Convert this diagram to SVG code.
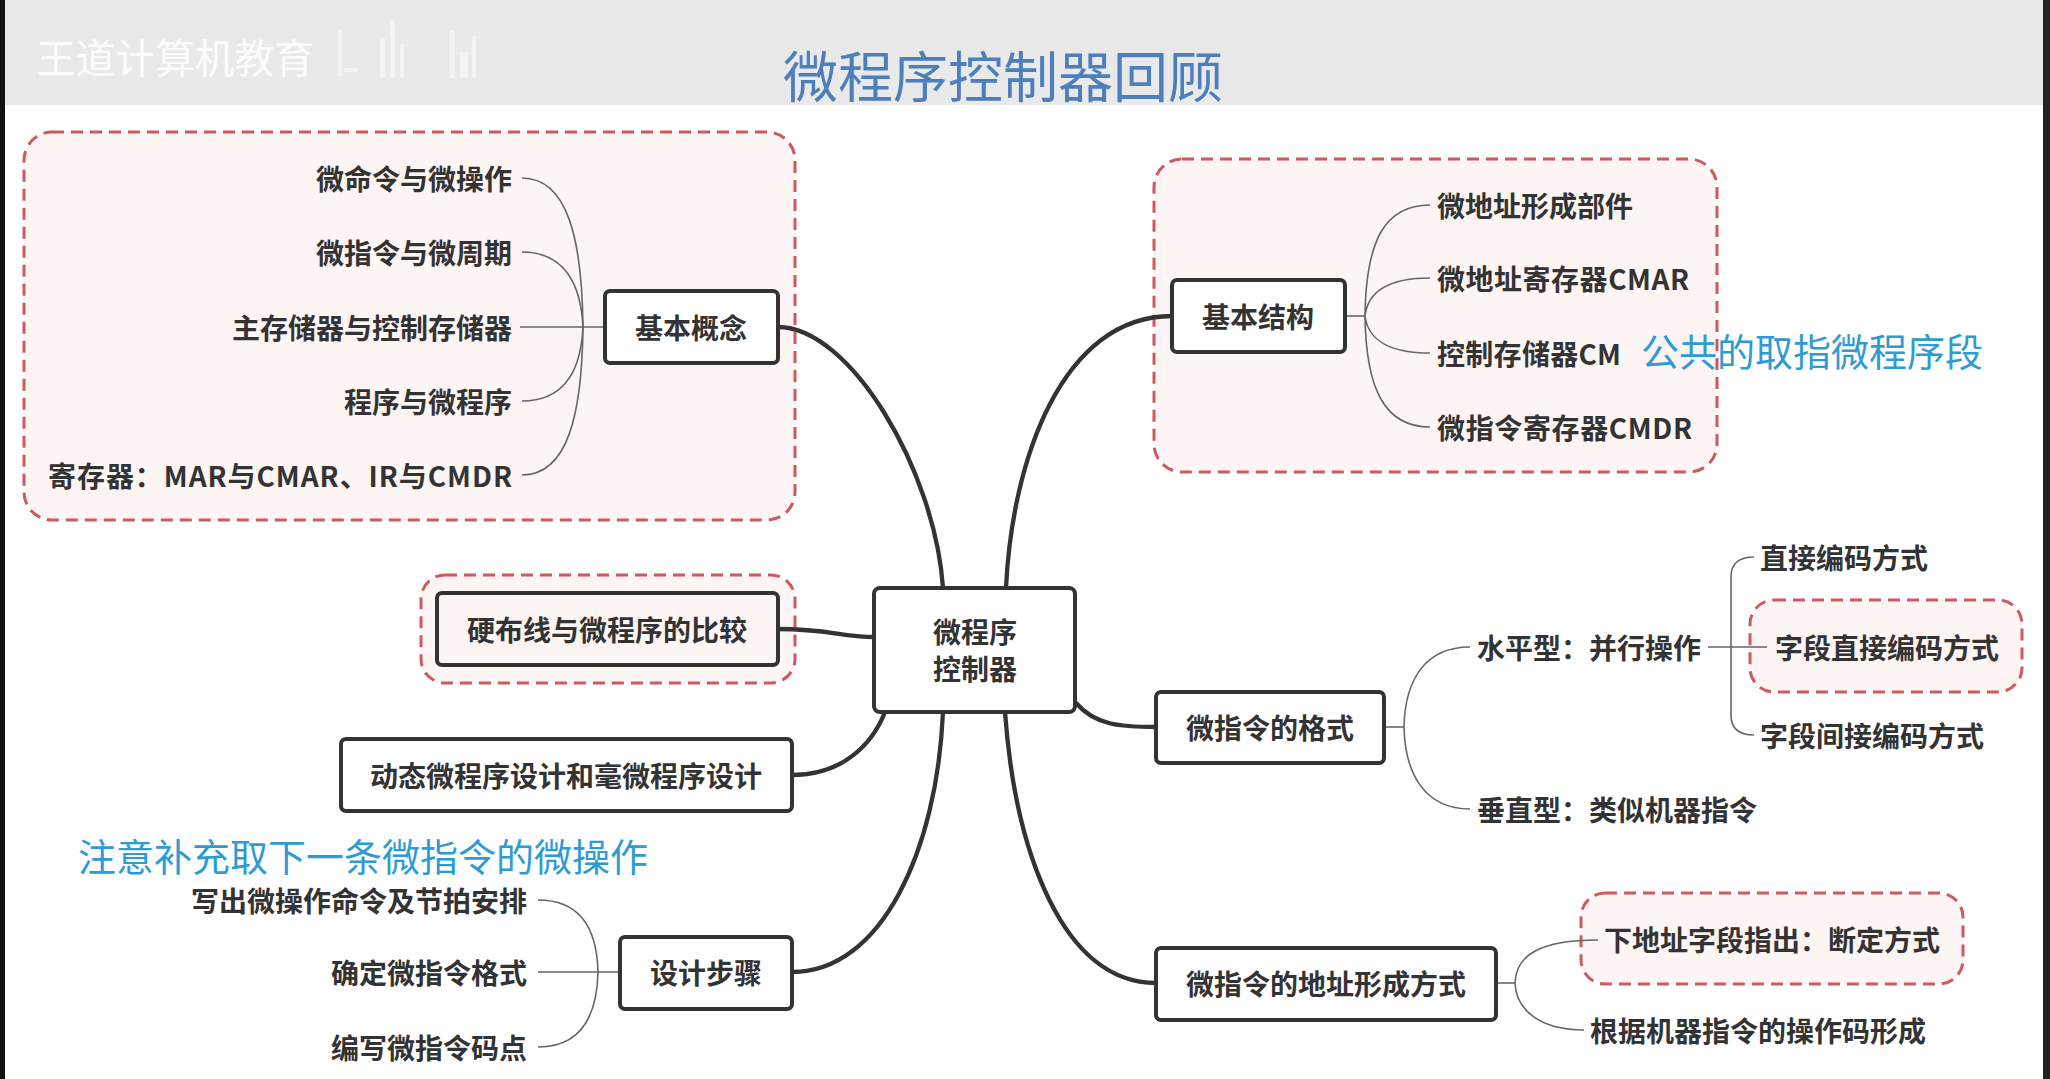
<svg xmlns="http://www.w3.org/2000/svg" width="2050" height="1079" viewBox="0 0 2050 1079">
<style>
text{font-family:"Noto Sans CJK SC","Noto Sans",sans-serif;dominant-baseline:central}
.lbl{font-size:28px;fill:#333;font-weight:600}
.nd{font-size:28px;fill:#333;font-weight:700}
.note{font-size:38px;fill:#2e9bd2}
.box{fill:#fff;stroke:#333;stroke-width:4}
.hl{fill:#fdf4f4;stroke:#cc5a5e;stroke-width:3;stroke-dasharray:12 7}
.main{fill:none;stroke:#333;stroke-width:4.3;stroke-linecap:round}
.thin{fill:none;stroke:#666;stroke-width:1.6}
</style>
<rect x="0" y="0" width="2050" height="1079" fill="#fff"/>
<rect x="0" y="0" width="2050" height="105" fill="#e9e9e9"/>
<rect x="0" y="0" width="5" height="1079" fill="#111"/>
<rect x="2043" y="0" width="7" height="1079" fill="#222"/>
<g id="watermark" opacity="0.9">
<text x="36" y="56" font-size="40" fill="#fff" textLength="278" lengthAdjust="spacingAndGlyphs">王道计算机教育</text>
<g fill="#fff" opacity="0.55">
<rect x="338" y="30" width="4" height="46"/><rect x="344" y="68" width="14" height="4"/>
<rect x="380" y="38" width="5" height="40"/><rect x="390" y="20" width="5" height="58"/><rect x="400" y="44" width="4" height="34"/>
<rect x="450" y="30" width="5" height="48"/><rect x="460" y="52" width="8" height="26"/><rect x="472" y="36" width="4" height="42"/>
</g>
</g>
<text id="title" x="1003" y="73" font-size="55" fill="#4d7fbd" text-anchor="middle">微程序控制器回顾</text>

<g id="containers">
<rect class="hl" x="24" y="132" width="771" height="388" rx="28"/>
<rect class="hl" x="1154" y="159" width="563" height="313" rx="28"/>
<rect class="hl" x="421" y="575" width="374" height="108" rx="24"/>
<rect class="hl" x="1750" y="600" width="272" height="92" rx="24"/>
<rect class="hl" x="1581" y="893" width="382" height="91" rx="24"/>
</g>

<g id="connectors">
<path class="main" d="M778,327 C850,327 935,470 943,588"/>
<path class="main" d="M1172,316 C1062,316 1012,460 1006,588"/>
<path class="main" d="M778,629 C830,629 840,637 874,637"/>
<path class="main" d="M792,775 C842,775 872,745 885,712"/>
<path class="main" d="M792,972 C882,972 937,850 943,712"/>
<path class="main" d="M1076,703 C1095,725 1120,727 1156,727"/>
<path class="main" d="M1005,712 C1015,850 1062,983 1156,983"/>
<path class="thin" d="M520,327 L604,327"/>
<path class="thin" d="M522,178 C568,178 582,240 583,327"/>
<path class="thin" d="M522,252 C565,252 581,285 583,327"/>
<path class="thin" d="M522,401 C565,401 581,369 583,327"/>
<path class="thin" d="M522,475 C568,475 582,414 583,327"/>
<path class="thin" d="M1345,316 L1365,316"/>
<path class="thin" d="M1365,316 C1366,240 1385,205 1430,205"/>
<path class="thin" d="M1365,316 C1368,290 1390,278 1430,278"/>
<path class="thin" d="M1365,316 C1368,340 1390,353 1430,353"/>
<path class="thin" d="M1365,316 C1366,390 1385,427 1430,427"/>
<path class="thin" d="M1384,727 L1404,727"/>
<path class="thin" d="M1404,727 C1405,680 1425,647 1470,647"/>
<path class="thin" d="M1404,727 C1405,774 1425,809 1470,809"/>
<path class="thin" d="M1708,647 L1767,647"/>
<path class="thin" d="M1754,557 Q1731,557 1731,577 L1731,715 Q1731,735 1754,735"/>
<path class="thin" d="M1496,983 L1515,983"/>
<path class="thin" d="M1515,983 C1516,955 1540,940 1598,940"/>
<path class="thin" d="M1515,983 C1516,1010 1540,1030 1584,1030"/>
<path class="thin" d="M538,972 L620,972"/>
<path class="thin" d="M538,900 C582,900 597,930 598,972"/>
<path class="thin" d="M538,1047 C582,1047 597,1014 598,972"/>
</g>

<g id="node-center">
<rect class="box" x="874" y="588" width="201" height="124" rx="6"/>
<text class="nd" x="975" y="631" text-anchor="middle">微程序</text>
<text class="nd" x="975" y="668" text-anchor="middle">控制器</text>
</g>
<g id="node-basic-concept">
<rect class="box" x="605" y="291" width="173" height="72" rx="5"/>
<text class="nd" x="691" y="327" text-anchor="middle">基本概念</text>
</g>
<g id="node-basic-structure">
<rect class="box" x="1172" y="280" width="173" height="72" rx="5"/>
<text class="nd" x="1258" y="316" text-anchor="middle">基本结构</text>
</g>
<g id="node-hardwired">
<rect class="box" x="437" y="593" width="341" height="72" rx="5" style="fill:#fdf4f4"/>
<text class="nd" x="607" y="629" text-anchor="middle">硬布线与微程序的比较</text>
</g>
<g id="node-dynamic">
<rect class="box" x="341" y="739" width="451" height="72" rx="5"/>
<text class="nd" x="566" y="775" text-anchor="middle">动态微程序设计和毫微程序设计</text>
</g>
<g id="node-design-steps">
<rect class="box" x="620" y="937" width="172" height="72" rx="5"/>
<text class="nd" x="706" y="972" text-anchor="middle">设计步骤</text>
</g>
<g id="node-format">
<rect class="box" x="1156" y="692" width="228" height="71" rx="5"/>
<text class="nd" x="1270" y="727" text-anchor="middle">微指令的格式</text>
</g>
<g id="node-address">
<rect class="box" x="1156" y="948" width="340" height="72" rx="5"/>
<text class="nd" x="1326" y="983" text-anchor="middle">微指令的地址形成方式</text>
</g>

<g id="labels-basic-concept">
<text class="lbl" x="512" y="178" text-anchor="end">微命令与微操作</text>
<text class="lbl" x="512" y="252" text-anchor="end">微指令与微周期</text>
<text class="lbl" x="512" y="327" text-anchor="end">主存储器与控制存储器</text>
<text class="lbl" x="512" y="401" text-anchor="end">程序与微程序</text>
<text class="lbl" x="48" y="475" textLength="464" lengthAdjust="spacing">寄存器：MAR与CMAR、IR与CMDR</text>
</g>
<g id="labels-basic-structure">
<text class="lbl" x="1437" y="205">微地址形成部件</text>
<text class="lbl" x="1437" y="278" textLength="252" lengthAdjust="spacing">微地址寄存器CMAR</text>
<text class="lbl" x="1437" y="353" textLength="184" lengthAdjust="spacing">控制存储器CM</text>
<text class="lbl" x="1437" y="427" textLength="255" lengthAdjust="spacing">微指令寄存器CMDR</text>
</g>
<g id="labels-format">
<text class="lbl" x="1477" y="647">水平型：并行操作</text>
<text class="lbl" x="1477" y="809">垂直型：类似机器指令</text>
<text class="lbl" x="1760" y="557">直接编码方式</text>
<text class="lbl" x="1775" y="647">字段直接编码方式</text>
<text class="lbl" x="1760" y="735">字段间接编码方式</text>
</g>
<g id="labels-address">
<text class="lbl" x="1604" y="939">下地址字段指出：断定方式</text>
<text class="lbl" x="1590" y="1030">根据机器指令的操作码形成</text>
</g>
<g id="labels-design">
<text class="lbl" x="527" y="900" text-anchor="end">写出微操作命令及节拍安排</text>
<text class="lbl" x="527" y="972" text-anchor="end">确定微指令格式</text>
<text class="lbl" x="527" y="1047" text-anchor="end">编写微指令码点</text>
</g>
<g id="notes">
<text class="note" x="78" y="854">注意补充取下一条微指令的微操作</text>
<text class="note" x="1641" y="349">公共的取指微程序段</text>
</g>
</svg>
